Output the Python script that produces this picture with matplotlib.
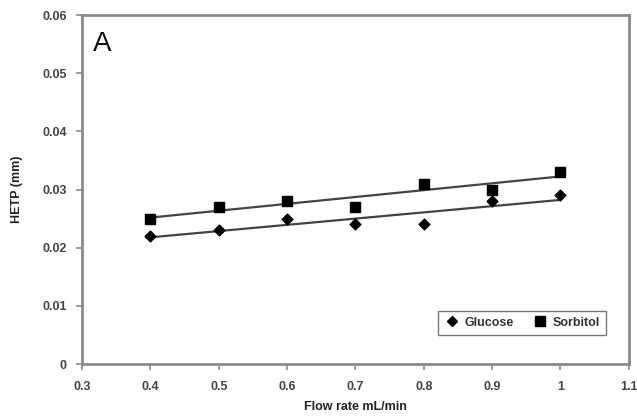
import numpy as np
import matplotlib
matplotlib.use("Agg")
import matplotlib.pyplot as plt
from matplotlib.lines import Line2D

flow = [0.4, 0.5, 0.6, 0.7, 0.8, 0.9, 1.0]
glucose = [0.022, 0.023, 0.025, 0.024, 0.024, 0.028, 0.029]
sorbitol = [0.025, 0.027, 0.028, 0.027, 0.031, 0.030, 0.033]
xticks = [0.3, 0.4, 0.5, 0.6, 0.7, 0.8, 0.9, 1.0, 1.1]
yticks = [0, 0.01, 0.02, 0.03, 0.04, 0.05, 0.06]
xtick_labels = ["0.3", "0.4", "0.5", "0.6", "0.7", "0.8", "0.9", "1", "1.1"]
ytick_labels = ["0", "0.01", "0.02", "0.03", "0.04", "0.05", "0.06"]

plt.rcParams['font.family'] = ['Liberation Sans', 'DejaVu Sans']

fig = plt.figure(figsize=(6.37, 4.17), dpi=100)
ax = fig.add_axes([0.129, 0.127, 0.858, 0.837])

x = np.array(flow)
for vals in (glucose, sorbitol):
    p = np.polyfit(x, vals, 1)
    ax.plot(x, np.polyval(p, x), color='#444444', lw=1.6, zorder=2)

ax.scatter(flow, glucose, marker='D', s=30, color='black', zorder=3)
ax.scatter(flow, sorbitol, marker='s', s=60, color='black', zorder=3)

ax.set_xlim(0.3, 1.1)
ax.set_ylim(0, 0.06)
ax.set_xticks(xticks)
ax.set_xticklabels(xtick_labels)
ax.set_yticks(yticks)
ax.set_yticklabels(ytick_labels)

for s in ax.spines.values():
    s.set_color('#8a8a8a')
    s.set_linewidth(2)

ax.tick_params(direction='out', length=4, width=1.2, color='#8a8a8a',
               labelsize=9, labelcolor='#444444', pad=7)
ax.tick_params(axis='x', pad=8)
for lbl in ax.get_xticklabels() + ax.get_yticklabels():
    lbl.set_fontweight('bold')

ax.set_xlabel('Flow rate mL/min', fontsize=9, fontweight='bold', color='#222222', labelpad=6)
ax.set_ylabel('HETP (mm)', fontsize=9, fontweight='bold', color='#222222', labelpad=14)

ax.text(0.02, 0.955, 'A', transform=ax.transAxes, fontsize=20, va='top', ha='left', color='#111111')

handles = [Line2D([], [], marker='D', color='black', ls='none', markersize=5),
           Line2D([], [], marker='s', color='black', ls='none', markersize=7)]
leg = ax.legend(handles, ['Glucose', 'Sorbitol'], ncol=2, loc='lower right',
                bbox_to_anchor=(0.97, 0.065), frameon=True, fancybox=False,
                prop={'weight': 'bold', 'size': 9}, handletextpad=0.4,
                columnspacing=1.5, borderpad=0.5, handlelength=1.2)
leg.get_frame().set_edgecolor('#555555')
leg.get_frame().set_linewidth(1)
for t in leg.get_texts():
    t.set_color('#333333')

fig.savefig('out.png', dpi=100)
